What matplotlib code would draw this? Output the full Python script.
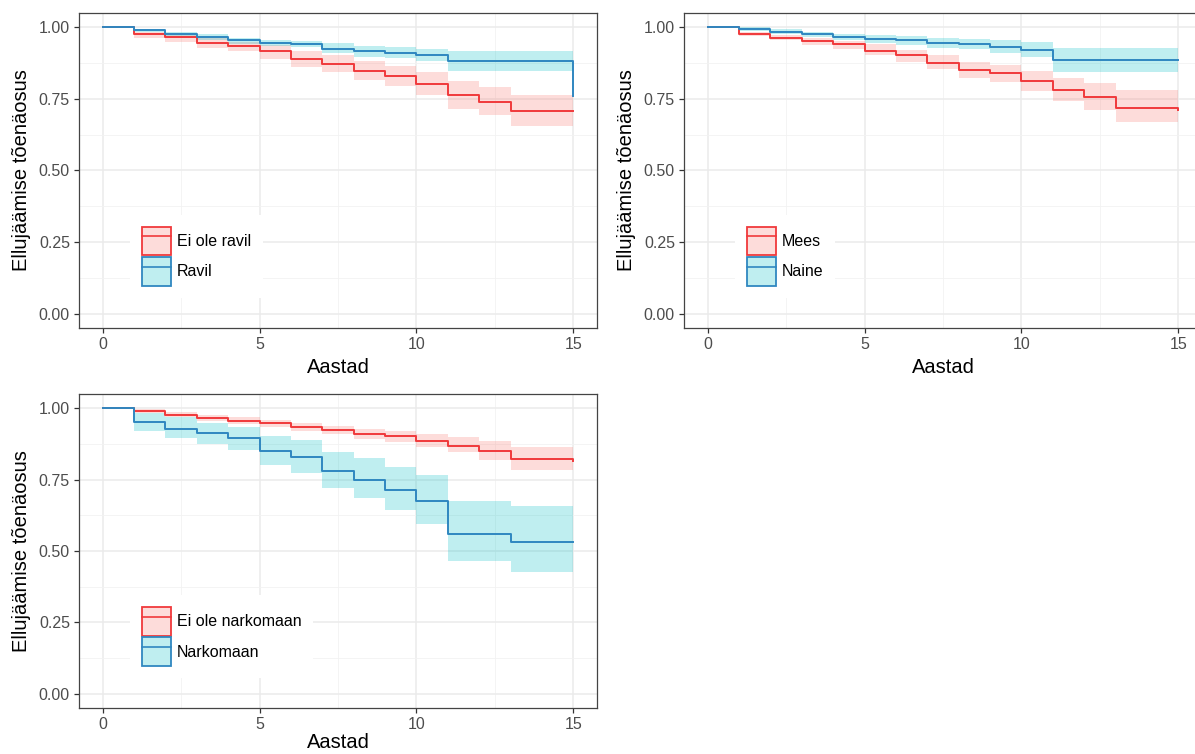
import matplotlib
matplotlib.use("Agg")
import matplotlib.pyplot as plt
from matplotlib.patches import Patch
from matplotlib.lines import Line2D
from matplotlib.legend_handler import HandlerTuple
import numpy as np

plt.rcParams['font.family'] = ['Liberation Sans', 'DejaVu Sans']

times = list(range(16))  # 0..15 years

# Panel 1: Ravil
p1_labels = ["Ei ole ravil", "Ravil"]
p1_red_surv = [1.0, 0.977, 0.965, 0.946, 0.935, 0.916, 0.890, 0.873, 0.848, 0.829, 0.802, 0.763, 0.740, 0.707, 0.707, 0.707]
p1_red_up = [1.0, 0.985, 0.977, 0.962, 0.950, 0.939, 0.918, 0.902, 0.881, 0.866, 0.844, 0.811, 0.790, 0.765, 0.765, 0.765]
p1_red_lo = [1.0, 0.962, 0.950, 0.927, 0.916, 0.889, 0.863, 0.843, 0.815, 0.794, 0.763, 0.716, 0.693, 0.655, 0.655, 0.655]
p1_blue_surv = [1.0, 0.990, 0.978, 0.965, 0.954, 0.946, 0.943, 0.926, 0.916, 0.912, 0.902, 0.883, 0.883, 0.883, 0.883, 0.759]
p1_blue_up = [1.0, 0.994, 0.985, 0.977, 0.964, 0.956, 0.953, 0.944, 0.935, 0.933, 0.925, 0.919, 0.919, 0.919, 0.919, 0.919]
p1_blue_lo = [1.0, 0.984, 0.968, 0.954, 0.941, 0.935, 0.931, 0.910, 0.898, 0.892, 0.884, 0.848, 0.848, 0.848, 0.848, 0.848]

# Panel 2: Sugu
p2_labels = ["Mees", "Naine"]
p2_red_surv = [1.0, 0.977, 0.963, 0.951, 0.940, 0.919, 0.903, 0.875, 0.850, 0.840, 0.814, 0.781, 0.757, 0.719, 0.719, 0.710]
p2_red_up = [1.0, 0.985, 0.973, 0.962, 0.953, 0.941, 0.921, 0.902, 0.878, 0.868, 0.848, 0.824, 0.806, 0.780, 0.780, 0.780]
p2_red_lo = [1.0, 0.968, 0.954, 0.940, 0.924, 0.902, 0.880, 0.854, 0.823, 0.808, 0.779, 0.742, 0.713, 0.669, 0.669, 0.669]
p2_blue_surv = [1.0, 0.994, 0.984, 0.975, 0.965, 0.959, 0.954, 0.946, 0.942, 0.932, 0.920, 0.885, 0.885, 0.885, 0.885, 0.885]
p2_blue_up = [1.0, 1.0, 0.993, 0.985, 0.977, 0.973, 0.968, 0.962, 0.959, 0.954, 0.948, 0.929, 0.929, 0.929, 0.929, 0.929]
p2_blue_lo = [1.0, 0.988, 0.977, 0.965, 0.954, 0.944, 0.939, 0.929, 0.924, 0.912, 0.895, 0.843, 0.843, 0.843, 0.843, 0.843]

# Panel 3: Narkomaan
p3_labels = ["Ei ole narkomaan", "Narkomaan"]
p3_red_surv = [1.0, 0.990, 0.978, 0.965, 0.955, 0.947, 0.935, 0.924, 0.909, 0.902, 0.885, 0.869, 0.852, 0.823, 0.823, 0.814]
p3_red_up = [1.0, 0.997, 0.987, 0.976, 0.968, 0.959, 0.950, 0.939, 0.927, 0.921, 0.909, 0.898, 0.884, 0.866, 0.866, 0.866]
p3_red_lo = [1.0, 0.983, 0.971, 0.956, 0.944, 0.933, 0.921, 0.910, 0.892, 0.883, 0.863, 0.846, 0.819, 0.785, 0.785, 0.785]
p3_blue_surv = [1.0, 0.953, 0.929, 0.913, 0.896, 0.850, 0.830, 0.781, 0.749, 0.715, 0.674, 0.561, 0.561, 0.532, 0.532, 0.532]
p3_blue_up = [1.0, 0.983, 0.968, 0.950, 0.933, 0.904, 0.888, 0.846, 0.825, 0.796, 0.765, 0.674, 0.674, 0.658, 0.658, 0.658]
p3_blue_lo = [1.0, 0.921, 0.896, 0.875, 0.854, 0.801, 0.775, 0.720, 0.684, 0.644, 0.594, 0.466, 0.466, 0.427, 0.427, 0.427]

x_ticks = [0, 5, 10, 15]
y_ticks = [0.0, 0.25, 0.5, 0.75, 1.0]
y_ticklabels = ["0.00", "0.25", "0.50", "0.75", "1.00"]
xlabel = "Aastad"
ylabel = "Ellujäämise tõenäosus"

RED_LINE = "#F0393B"
BLUE_LINE = "#2F87C0"
RED_FILL = "#F8766D"
BLUE_FILL = "#00BFC4"

W, H = 1195, 754
fig = plt.figure(figsize=(W / 100, H / 100), dpi=100)


def px_axes(left, top, right, bottom):
    return fig.add_axes([left / W, 1 - bottom / H, (right - left) / W, (bottom - top) / H])


def draw_panel(ax, labels, rs, ru, rl, bs, bu, bl, xlabelpad):
    ax.fill_between(times, rl, ru, step='post', color=RED_FILL, alpha=0.25, lw=0)
    ax.fill_between(times, bl, bu, step='post', color=BLUE_FILL, alpha=0.25, lw=0)
    ax.step(times, rs, where='post', color=RED_LINE, lw=1.4)
    ax.step(times, bs, where='post', color=BLUE_LINE, lw=1.4)
    ax.set_xlim(-0.75, 15.75)
    ax.set_ylim(-0.05, 1.05)
    ax.set_xticks(x_ticks)
    ax.set_xticks([2.5, 7.5, 12.5], minor=True)
    ax.set_yticks(y_ticks)
    ax.set_yticklabels(y_ticklabels)
    ax.set_yticks([0.125, 0.375, 0.625, 0.875], minor=True)
    ax.grid(True, which='major', color='#EBEBEB', lw=1.1)
    ax.grid(True, which='minor', color='#F2F2F2', lw=0.6)
    ax.set_axisbelow(True)
    ax.tick_params(which='major', length=3.5, width=0.9, color='#333333',
                   labelcolor='#4D4D4D', labelsize=11.5, pad=3)
    ax.tick_params(which='minor', length=0)
    for s in ax.spines.values():
        s.set_color('#444444')
        s.set_linewidth(0.9)
    ax.set_xlabel(xlabel, fontsize=14.5, color='black', labelpad=xlabelpad)
    ax.set_ylabel(ylabel, fontsize=14.5, color='black')
    ax.yaxis.set_label_coords(-0.093, 0.5)
    handles = [
        (Patch(facecolor=RED_FILL, alpha=0.25, edgecolor='none'),
         Patch(facecolor='none', edgecolor=RED_LINE, lw=1.3),
         Line2D([], [], color=RED_LINE, lw=1.2)),
        (Patch(facecolor=BLUE_FILL, alpha=0.25, edgecolor='none'),
         Patch(facecolor='none', edgecolor=BLUE_LINE, lw=1.3),
         Line2D([], [], color=BLUE_LINE, lw=1.2)),
    ]
    leg = ax.legend(handles, labels, handler_map={tuple: HandlerTuple(ndivide=1, pad=0)},
                    loc='upper left', bbox_to_anchor=(0.099, 0.36),
                    fontsize=11.5, handlelength=1.8, handleheight=2.4,
                    handletextpad=0.35, labelspacing=0.1, borderpad=0.75,
                    borderaxespad=0, frameon=True, fancybox=False)
    leg.get_frame().set_facecolor('white')
    leg.get_frame().set_edgecolor('none')
    leg.get_frame().set_alpha(1)


ax1 = px_axes(79, 13, 597, 328)
draw_panel(ax1, p1_labels, p1_red_surv, p1_red_up, p1_red_lo,
           p1_blue_surv, p1_blue_up, p1_blue_lo, 4)
ax2 = px_axes(684, 13, 1202, 328)
draw_panel(ax2, p2_labels, p2_red_surv, p2_red_up, p2_red_lo,
           p2_blue_surv, p2_blue_up, p2_blue_lo, 4)
ax3 = px_axes(79, 394, 597, 708)
draw_panel(ax3, p3_labels, p3_red_surv, p3_red_up, p3_red_lo,
           p3_blue_surv, p3_blue_up, p3_blue_lo, 1)

fig.savefig("out.png", dpi=100)
